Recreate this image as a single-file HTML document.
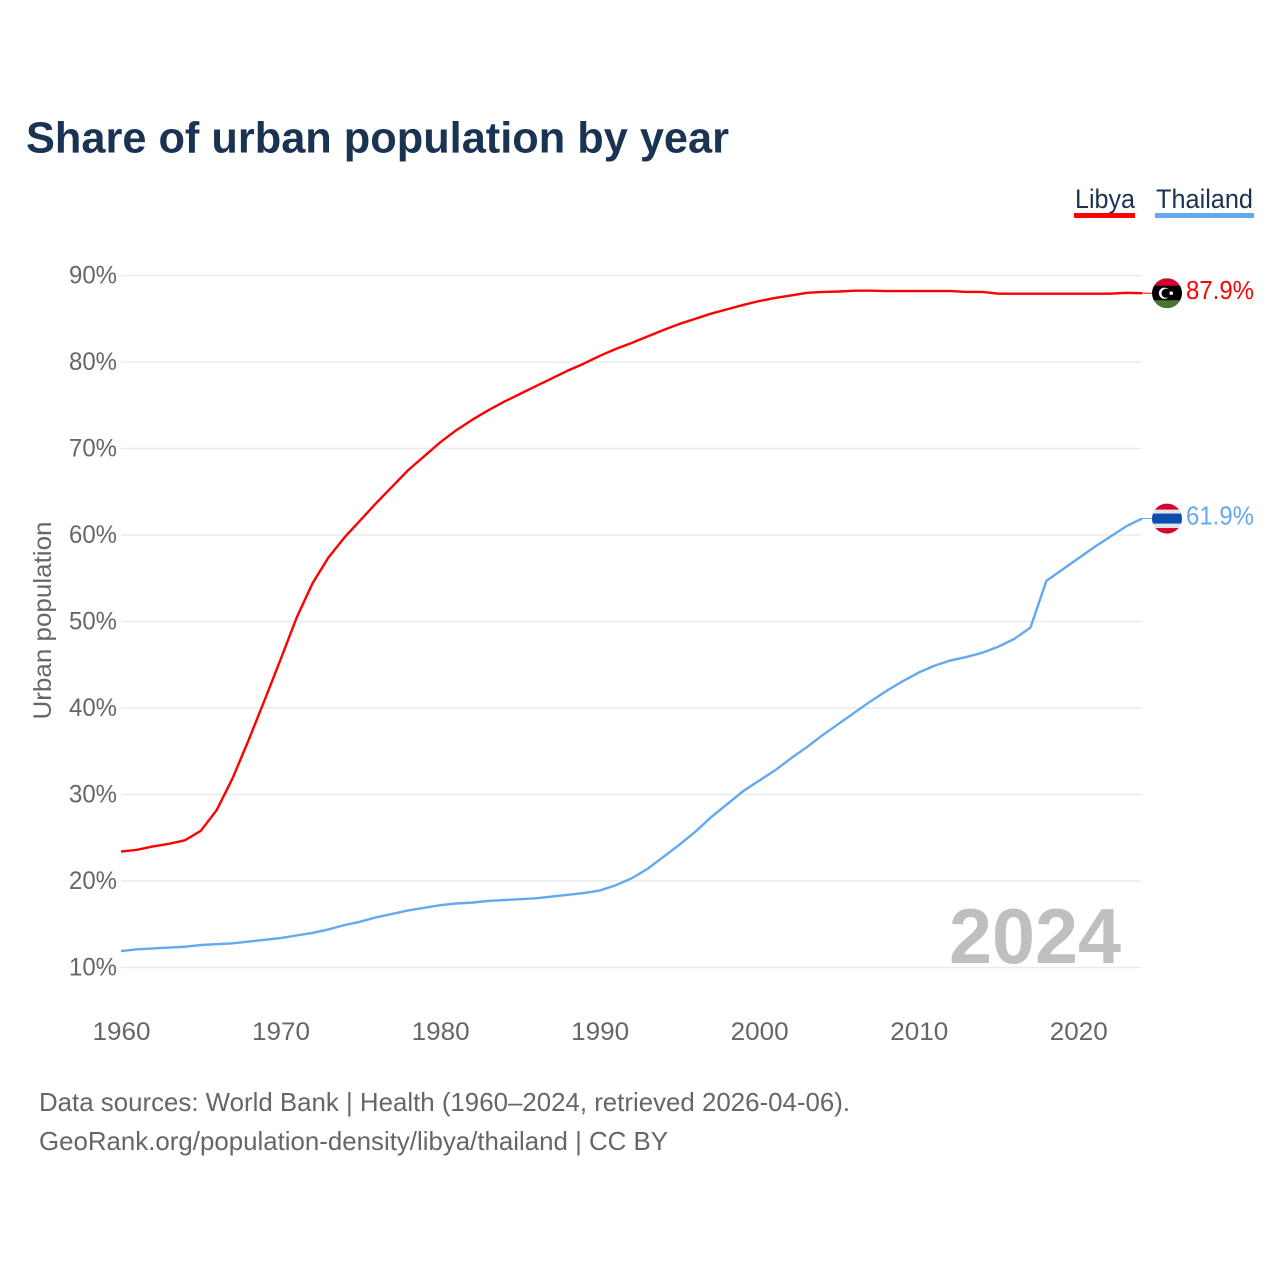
<!DOCTYPE html>
<html lang="en">
<head>
<meta charset="utf-8">
<title>Share of urban population by year</title>
<style>
  html, body { margin: 0; padding: 0; background: #fff; }
  svg { display: block; font-family: "Liberation Sans", sans-serif; }
</style>
</head>
<body>
<svg id="chart" xmlns="http://www.w3.org/2000/svg" width="1280" height="1280" viewBox="0 0 1280 1280">
  <defs>
    <clipPath id="flag-clip-libya"><circle cx="0" cy="0" r="15"></circle></clipPath>
    <clipPath id="flag-clip-thailand"><circle cx="0" cy="0" r="15"></circle></clipPath>
  </defs>
  <rect x="0" y="0" width="1280" height="1280" fill="#ffffff"></rect>
  <text x="26" y="152.5" font-size="44" font-weight="700" fill="#1a3353" textLength="703" lengthAdjust="spacingAndGlyphs">Share of urban population by year</text>

  <g>
    <g>
      <text x="1075" y="208" font-size="27" fill="#1a3353" textLength="60" lengthAdjust="spacingAndGlyphs">Libya</text>
      <rect x="1074" y="213" width="61" height="5" fill="#ff0000"></rect>
    </g>
    <g>
      <text x="1156" y="208" font-size="27" fill="#1a3353" textLength="97" lengthAdjust="spacingAndGlyphs">Thailand</text>
      <rect x="1155" y="213" width="99" height="5" fill="#64a8ee"></rect>
    </g>
  </g>

  <g id="grid"></g>
  <g id="y-axis"></g>
  <g id="x-axis"></g>
  <text transform="translate(51,620.5) rotate(-90)" text-anchor="middle" font-size="25" fill="#666666" textLength="198" lengthAdjust="spacingAndGlyphs">Urban population</text>

  <text x="949" y="963" font-size="78" font-weight="700" fill="#bfbfbf" textLength="172" lengthAdjust="spacingAndGlyphs">2024</text>

  <g id="series"></g>

  <g id="flag-libya">
    <g clip-path="url(#flag-clip-libya)">
      <rect x="-15" y="-15" width="30" height="8" fill="#d6002f"></rect>
      <rect x="-15" y="-7.5" width="30" height="15" fill="#000000"></rect>
      <rect x="-15" y="7" width="30" height="8" fill="#4b7430"></rect>
    </g>
    <circle cx="-2.5" cy="0" r="5.6" fill="#ffffff"></circle>
    <circle cx="-0.9" cy="0" r="4.6" fill="#000000"></circle>
    <circle cx="4.2" cy="0" r="1.8" fill="#ffffff"></circle>
  </g>
  <g id="flag-thailand">
    <g clip-path="url(#flag-clip-thailand)">
      <rect x="-15" y="-15" width="30" height="30" fill="#e4e4e8"></rect>
      <rect x="-15" y="-15" width="30" height="6" fill="#d6002f"></rect>
      <rect x="-15" y="9.5" width="30" height="6" fill="#d6002f"></rect>
      <rect x="-15" y="-5" width="30" height="10" fill="#0a4fb0"></rect>
    </g>
  </g>
  <g id="end-labels"></g>

  <g>
    <text x="39" y="1111" font-size="26" fill="#666666" textLength="811" lengthAdjust="spacingAndGlyphs">Data sources: World Bank | Health (1960–2024, retrieved 2026-04-06).</text>
    <text x="39" y="1150" font-size="26" fill="#666666" textLength="629" lengthAdjust="spacingAndGlyphs">GeoRank.org/population-density/libya/thailand | CC BY</text>
  </g>
</svg>
<script>
const startYear = 1960;
const libyaValues = [23.4, 23.6, 24.0, 24.3, 24.7, 25.8, 28.2, 31.9, 36.3, 40.9, 45.6, 50.4, 54.4, 57.4, 59.7, 61.7, 63.7, 65.6, 67.5, 69.1, 70.7, 72.1, 73.3, 74.4, 75.4, 76.3, 77.2, 78.1, 79.0, 79.8, 80.7, 81.5, 82.2, 82.95, 83.7, 84.4, 85.0, 85.6, 86.1, 86.6, 87.05, 87.4, 87.7, 88.0, 88.1, 88.15, 88.25, 88.25, 88.2, 88.2, 88.2, 88.2, 88.2, 88.1, 88.1, 87.9, 87.9, 87.9, 87.9, 87.9, 87.9, 87.9, 87.9, 88.0, 87.95];
const thailandValues = [11.9, 12.1, 12.2, 12.3, 12.4, 12.6, 12.7, 12.8, 13.0, 13.2, 13.4, 13.7, 14.0, 14.4, 14.9, 15.3, 15.8, 16.2, 16.6, 16.9, 17.2, 17.4, 17.5, 17.7, 17.8, 17.9, 18.0, 18.2, 18.4, 18.6, 18.9, 19.5, 20.3, 21.4, 22.8, 24.2, 25.7, 27.4, 28.9, 30.4, 31.6, 32.8, 34.2, 35.5, 36.9, 38.2, 39.5, 40.8, 42.0, 43.1, 44.1, 44.9, 45.5, 45.9, 46.4, 47.1, 48.0, 49.3, 54.7, 56.0, 57.3, 58.6, 59.8, 61.0, 61.9];
const yTickValues = [10, 20, 30, 40, 50, 60, 70, 80, 90];
const yTickLabels = ['10%', '20%', '30%', '40%', '50%', '60%', '70%', '80%', '90%'];
const xTickValues = [1960, 1970, 1980, 1990, 2000, 2010, 2020];
const xTickLabels = ['1960', '1970', '1980', '1990', '2000', '2010', '2020'];
const endLabels = ['87.9%', '61.9%'];

const SVG_NS = 'http://www.w3.org/2000/svg';
const xScale = function (year) { return 121 + (year - 1960) * 15.955; };
const yScale = function (pct) { return 967.5 - (pct - 10) * 8.65; };

const gridGroup = document.getElementById('grid');
const yAxisGroup = document.getElementById('y-axis');
const xAxisGroup = document.getElementById('x-axis');
const seriesGroup = document.getElementById('series');
const endLabelGroup = document.getElementById('end-labels');

yTickValues.forEach(function (value, i) {
  const line = document.createElementNS(SVG_NS, 'line');
  
  
  line.setAttribute('x1', 121);
  line.setAttribute('x2', 1142);
  line.setAttribute('y1', yScale(value));
  line.setAttribute('y2', yScale(value));
  line.setAttribute('stroke', '#ebebeb');
  line.setAttribute('stroke-width', 1.5);
  gridGroup.appendChild(line);

  const label = document.createElementNS(SVG_NS, 'text');
  
  
  label.setAttribute('x', 117);
  label.setAttribute('y', yScale(value) + 8);
  label.setAttribute('text-anchor', 'end');
  label.setAttribute('font-size', 25);
  label.setAttribute('fill', '#666666');
  label.setAttribute('textLength', 48);
  label.setAttribute('lengthAdjust', 'spacingAndGlyphs');
  label.textContent = yTickLabels[i];
  yAxisGroup.appendChild(label);
});

xTickValues.forEach(function (value, i) {
  const label = document.createElementNS(SVG_NS, 'text');
  
  
  label.setAttribute('x', xScale(value) + 0.5);
  label.setAttribute('y', 1040);
  label.setAttribute('text-anchor', 'middle');
  label.setAttribute('font-size', 25);
  label.setAttribute('fill', '#666666');
  label.setAttribute('textLength', 58);
  label.setAttribute('lengthAdjust', 'spacingAndGlyphs');
  label.textContent = xTickLabels[i];
  xAxisGroup.appendChild(label);
});

function linePoints(values) {
  return values.map(function (value, i) {
    return xScale(startYear + i).toFixed(2) + ',' + yScale(value).toFixed(2);
  }).join(' ');
}

const libyaLine = document.createElementNS(SVG_NS, 'polyline');


libyaLine.setAttribute('points', linePoints(libyaValues));
libyaLine.setAttribute('fill', 'none');
libyaLine.setAttribute('stroke', '#ff0000');
libyaLine.setAttribute('stroke-width', 2.4);
libyaLine.setAttribute('stroke-linejoin', 'round');
seriesGroup.appendChild(libyaLine);

const thailandLine = document.createElementNS(SVG_NS, 'polyline');


thailandLine.setAttribute('points', linePoints(thailandValues));
thailandLine.setAttribute('fill', 'none');
thailandLine.setAttribute('stroke', '#64a8ee');
thailandLine.setAttribute('stroke-width', 2.4);
thailandLine.setAttribute('stroke-linejoin', 'round');
seriesGroup.appendChild(thailandLine);

const libyaEndY = yScale(libyaValues[libyaValues.length - 1]);
const thailandEndY = yScale(thailandValues[thailandValues.length - 1]);
const endX = xScale(startYear + libyaValues.length - 1);

const libyaConnector = document.createElementNS(SVG_NS, 'line');


libyaConnector.setAttribute('x1', endX);
libyaConnector.setAttribute('x2', 1152);
libyaConnector.setAttribute('y1', libyaEndY);
libyaConnector.setAttribute('y2', libyaEndY);
libyaConnector.setAttribute('stroke', '#ff0000');
libyaConnector.setAttribute('stroke-width', 1);
seriesGroup.appendChild(libyaConnector);

const thailandConnector = document.createElementNS(SVG_NS, 'line');


thailandConnector.setAttribute('x1', endX);
thailandConnector.setAttribute('x2', 1152);
thailandConnector.setAttribute('y1', thailandEndY);
thailandConnector.setAttribute('y2', thailandEndY);
thailandConnector.setAttribute('stroke', '#64a8ee');
thailandConnector.setAttribute('stroke-width', 1);
seriesGroup.appendChild(thailandConnector);

document.getElementById('flag-libya').setAttribute('transform', 'translate(1167,' + libyaEndY + ')');
document.getElementById('flag-thailand').setAttribute('transform', 'translate(1167,' + thailandEndY + ')');

const libyaEndLabel = document.createElementNS(SVG_NS, 'text');


libyaEndLabel.setAttribute('x', 1186);
libyaEndLabel.setAttribute('y', libyaEndY + 6);
libyaEndLabel.setAttribute('font-size', 26);
libyaEndLabel.setAttribute('fill', '#ff0000');
libyaEndLabel.setAttribute('textLength', 68);
libyaEndLabel.setAttribute('lengthAdjust', 'spacingAndGlyphs');
libyaEndLabel.textContent = endLabels[0];
endLabelGroup.appendChild(libyaEndLabel);

const thailandEndLabel = document.createElementNS(SVG_NS, 'text');


thailandEndLabel.setAttribute('x', 1186);
thailandEndLabel.setAttribute('y', thailandEndY + 6);
thailandEndLabel.setAttribute('font-size', 26);
thailandEndLabel.setAttribute('fill', '#64a8ee');
thailandEndLabel.setAttribute('textLength', 68);
thailandEndLabel.setAttribute('lengthAdjust', 'spacingAndGlyphs');
thailandEndLabel.textContent = endLabels[1];
endLabelGroup.appendChild(thailandEndLabel);
</script>
</body>
</html>
